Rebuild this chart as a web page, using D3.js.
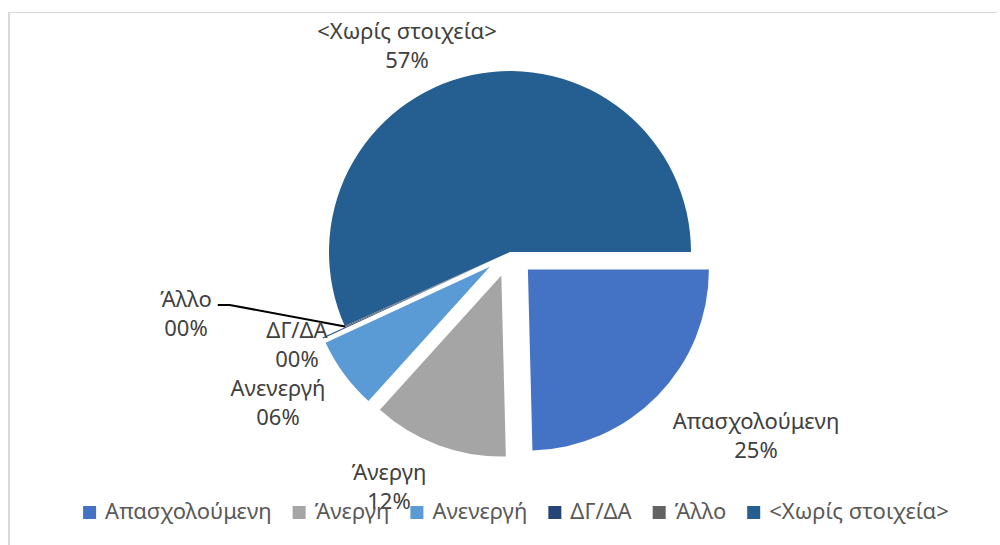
<!DOCTYPE html>
<html>
<head>
<meta charset="utf-8">
<script src="https://cdn.jsdelivr.net/npm/d3@7"></script>
<style>
  body { margin: 0; background: #fff; }
  svg { display: block; font-family: "Noto Sans", sans-serif; }
</style>
</head>
<body>
<svg id="chart" width="1000" height="545"></svg>
<script>
// Pie of employment status, exploded slices, Excel-like styling
(function () {
  "use strict";

  // Data
  const categories = ["Απασχολούμενη", "Άνεργη", "Ανενεργή", "ΔΓ/ΔΑ", "Άλλο", "<Χωρίς στοιχεία>"];
  const values = [24.6, 12.1, 6.4, 0.1, 0.1, 56.7];

  // Styling / layout
  const colors = ["#4472C4", "#A5A5A5", "#5B9BD5", "#264478", "#636363", "#255E91"];
  const explode = [25, 25, 25, 25, 0, 0];
  // label block: x centre and first baseline, relative to pie centre
  const labelOffsets = [[246, 177], [-121, 228], [-232, 144], [-213, 86], [-324, 55], [-103, -213]];
  const leaderFor = [false, false, false, false, true, false];

  const height = 545;
  const cx = 510;
  const cy = 252;
  const radius = 181;
  const fontSize = 22;
  const lineGap = 29;

  const svg = d3.select("#chart");

  // chart frame (only top and left edges visible)
  svg.append("line")
    .attr("x1", 8).attr("x2", 997).attr("y1", 12.5).attr("y2", 12.5)
    .attr("stroke", "#d9d9d9").attr("stroke-width", 1);
  svg.append("line")
    .attr("x1", 9).attr("x2", 9).attr("y1", 12).attr("y2", height)
    .attr("stroke", "#d9d9d9").attr("stroke-width", 2);

  const total = d3.sum(values);
  const pctFmt = d3.format("02.0f");

  const pie = d3.pie()
    .sort(null)
    .value((d) => d)
    .startAngle(Math.PI / 2)
    .endAngle(Math.PI / 2 + 2 * Math.PI);

  const arcs = pie(values);
  const arc = d3.arc().innerRadius(0).outerRadius(radius);

  const g = svg.append("g").attr("transform", `translate(${cx},${cy})`);

  function measure(s) {
    const t = svg.append("text").attr("font-size", fontSize).text(s);
    const w = t.node().getComputedTextLength();
    t.remove();
    return w;
  }

  // slices
  g.selectAll("path.slice")
    .data(arcs)
    .join("path")
    .attr("class", "slice")
    .attr("d", arc)
    .attr("fill", (d, i) => colors[i])
    .attr("transform", (d, i) => {
      const mid = (d.startAngle + d.endAngle) / 2;
      const dx = Math.sin(mid) * explode[i];
      const dy = -Math.cos(mid) * explode[i];
      return `translate(${dx},${dy})`;
    });

  // leader lines
  arcs.forEach((d, i) => {
    if (!leaderFor[i]) return;
    const mid = (d.startAngle + d.endAngle) / 2;
    const px = Math.sin(mid) * (radius + explode[i]);
    const py = -Math.cos(mid) * (radius + explode[i]);
    const tw = measure(categories[i]);
    const lx = labelOffsets[i][0] + tw / 2 + 6;
    const ly = labelOffsets[i][1] - 2;
    g.append("path")
      .attr("d", d3.line()([[lx, ly], [lx + 12, ly], [px, py]]))
      .attr("fill", "none")
      .attr("stroke", "#000")
      .attr("stroke-width", 2);
  });

  // data labels
  arcs.forEach((d, i) => {
    const pct = (values[i] / total) * 100;
    const t = g.append("text")
      .attr("text-anchor", "middle")
      .attr("font-size", fontSize)
      .attr("fill", "#404040");
    t.append("tspan")
      .attr("x", labelOffsets[i][0])
      .attr("y", labelOffsets[i][1])
      .text(categories[i]);
    t.append("tspan")
      .attr("x", labelOffsets[i][0])
      .attr("y", labelOffsets[i][1] + lineGap)
      .text(pctFmt(pct) + "%");
  });

  // legend
  const swatch = 13;
  const swatchGap = 9;
  const itemGap = 21;
  const legendCenter = 516;
  const legendBaseline = 519;
  const widths = categories.map(measure);
  const totalW = d3.sum(widths) + categories.length * (swatch + swatchGap) + (categories.length - 1) * itemGap;
  let x = legendCenter - totalW / 2;

  const legend = svg.append("g");
  categories.forEach((c, i) => {
    legend.append("rect")
      .attr("x", x)
      .attr("y", legendBaseline - 13)
      .attr("width", swatch)
      .attr("height", swatch)
      .attr("fill", colors[i]);
    legend.append("text")
      .attr("x", x + swatch + swatchGap)
      .attr("y", legendBaseline)
      .attr("font-size", fontSize)
      .attr("fill", "#595959")
      .text(c);
    x += swatch + swatchGap + widths[i] + itemGap;
  });
})();
</script>
</body>
</html>
